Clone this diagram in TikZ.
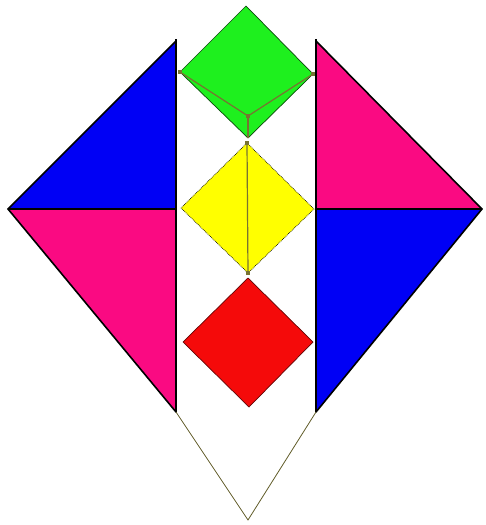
\documentclass[tikz,border=0pt]{standalone}
\definecolor{kblue}{RGB}{0,0,245}
\definecolor{kpink}{RGB}{250,10,130}
\definecolor{kgreen}{RGB}{30,240,30}
\definecolor{kyellow}{RGB}{255,255,0}
\definecolor{kred}{RGB}{245,10,10}
\definecolor{kolive}{RGB}{120,115,50}
\begin{document}
\begin{tikzpicture}[x=1pt,y=-1pt,
  piece/.style={draw=black,line width=1.6pt,line join=round},
  thinline/.style={draw=kolive,line width=1.2pt},
  dot/.style={fill=kolive,inner sep=0pt,minimum size=4.5pt,rectangle}]
\useasboundingbox (0,0) rectangle (485,525);
% coordinates
\coordinate (LT) at (176,41);
\coordinate (LM) at (176,209);
\coordinate (LB) at (176,412);
\coordinate (LW) at (8,209);
\coordinate (RT) at (316,41);
\coordinate (RM) at (316,209);
\coordinate (RB) at (316,412);
\coordinate (RE) at (482,209);
\coordinate (AP) at (248,520);
% triangles
\filldraw[piece,fill=kblue] (LT) -- (LM) -- (LW) -- cycle;
\filldraw[piece,fill=kpink] (LW) -- (LM) -- (LB) -- cycle;
\filldraw[piece,fill=kpink] (RT) -- (RM) -- (RE) -- cycle;
\filldraw[piece,fill=kblue] (RM) -- (RE) -- (RB) -- cycle;
\draw[line width=2.8pt] (176,39) -- (LB);
\draw[line width=2.8pt] (316,39) -- (RB);
% green
\coordinate (GT) at (246,6);
\coordinate (GL) at (180,72);
\coordinate (GR) at (313,74);
\coordinate (GB) at (248,138);
\coordinate (GC) at (248,116);
\filldraw[fill=kgreen,draw=black!70!kgreen,line width=0.7pt] (GT) -- (GR) -- (GB) -- (GL) -- cycle;
\draw[thinline] (GL) -- (GC) -- (GR);
\draw[thinline] (GC) -- (GB);
% yellow
\coordinate (YT) at (247,143);
\coordinate (YL) at (181,208);
\coordinate (YR) at (314,209);
\coordinate (YB) at (248,273);
\filldraw[fill=kyellow,draw=black,line width=0.7pt,densely dotted] (YT) -- (YR) -- (YB) -- (YL) -- cycle;
\draw[thinline] (YT) -- (YB);
% red
\coordinate (DT) at (248,278);
\coordinate (DL) at (183,342);
\coordinate (DR) at (313,342);
\coordinate (DB) at (249,407);
\filldraw[fill=kred,draw=black!60!kred,line width=0.7pt] (DT) -- (DR) -- (DB) -- (DL) -- cycle;
% tail
\draw[draw=kolive!80!black,line width=0.8pt] (LB) -- (AP) -- (RB);
% dots
\foreach \p in {GL,GR,GC,YT,YB} \node[dot] at (\p) {};
\end{tikzpicture}
\end{document}
